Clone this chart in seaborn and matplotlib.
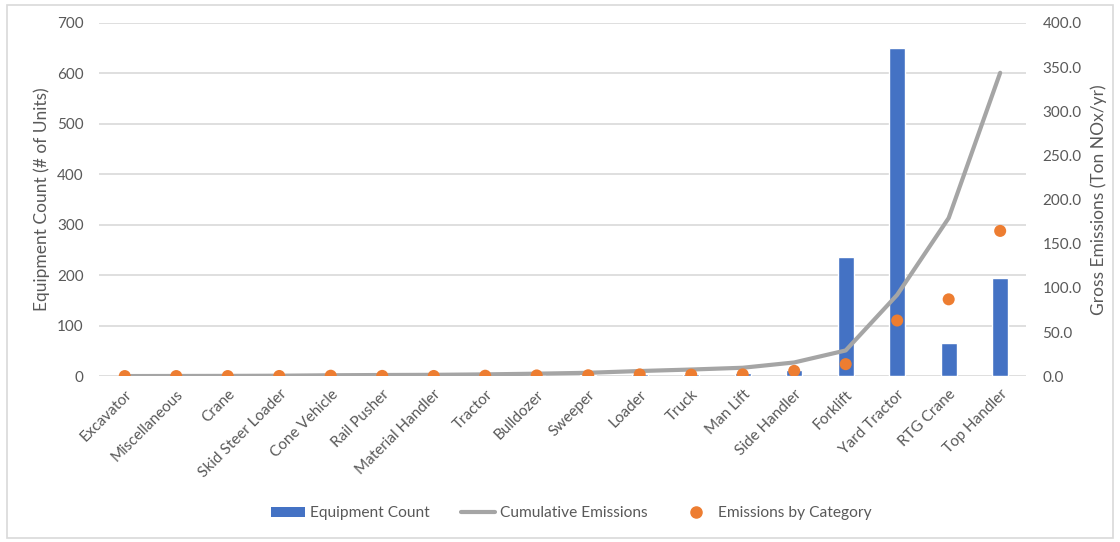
import numpy as np
import pandas as pd
import matplotlib
matplotlib.use("Agg")
import matplotlib.pyplot as plt
from matplotlib.patches import Rectangle
from matplotlib.lines import Line2D
import seaborn as sns

categories = ["Excavator", "Miscellaneous", "Crane", "Skid Steer Loader", "Cone Vehicle",
              "Rail Pusher", "Material Handler", "Tractor", "Bulldozer", "Sweeper", "Loader",
              "Truck", "Man Lift", "Side Handler", "Forklift", "Yard Tractor", "RTG Crane",
              "Top Handler"]
equipment_count = [1, 1, 1, 1, 2, 2, 2, 2, 2, 3, 5, 5, 7, 12, 237, 650, 66, 194]
emissions_by_category = [0.1, 0.1, 0.1, 0.2, 0.5, 0.3, 0.2, 0.5, 0.8, 1.0, 2.0, 1.7, 2.0,
                         6.0, 13.6, 63.0, 87.0, 164.5]
cumulative_emissions = [0.1, 0.2, 0.3, 0.5, 1.0, 1.3, 1.5, 2.0, 2.8, 3.8, 5.8, 7.5, 9.5,
                        15.5, 29.1, 92.1, 179.1, 343.6]

BLUE = "#4472C4"
GREY = "#A5A5A5"
ORANGE = "#ED7D31"
TEXT = "#595959"
GRID = "#D9D9D9"

df = pd.DataFrame({
    "category": categories,
    "pos": np.arange(len(categories)),
    "count": equipment_count,
    "emissions": emissions_by_category,
    "cumulative": cumulative_emissions,
})

sns.set_theme(style="white")
plt.rcParams["font.family"] = ["Lato", "DejaVu Sans"]

fig = plt.figure(figsize=(11.2, 5.42), dpi=100)
ax = fig.add_axes([0.0884, 0.306, 0.8276, 0.6516])

sns.barplot(data=df, x="pos", y="count", color=BLUE, width=0.31, saturation=1,
            ax=ax, native_scale=True, zorder=2)
ax.set_xlim(-0.5, len(categories) - 0.5)
ax.set_ylim(0, 700)
ax.set_yticks(np.arange(0, 701, 100))
ax.yaxis.grid(True, color=GRID, linewidth=1.2, zorder=0)
ax.set_axisbelow(True)
ax.set_xticks(df["pos"])
ax.set_xticklabels(categories, rotation=45, ha="right", rotation_mode="anchor",
                   fontsize=11, color=TEXT)
ax.tick_params(axis="x", length=0, pad=8)
ax.tick_params(axis="y", length=0, labelsize=11, labelcolor=TEXT, pad=11)
ax.set_xlabel("")
ax.set_ylabel("Equipment Count (# of Units)", fontsize=12.5, color=TEXT, labelpad=5)
for s in ax.spines.values():
    s.set_visible(False)

ax2 = ax.twinx()
sns.lineplot(data=df, x="pos", y="cumulative", color=GREY, linewidth=3, ax=ax2, zorder=3)
sns.scatterplot(data=df, x="pos", y="emissions", color=ORANGE, s=75, edgecolor="none",
                ax=ax2, zorder=4)
ax2.set_ylim(0, 400)
ax2.set_yticks(np.arange(0, 401, 50))
ax2.set_yticklabels([f"{v:.1f}" for v in np.arange(0, 401, 50)])
ax2.tick_params(axis="y", length=0, labelsize=11, labelcolor=TEXT, pad=12)
ax2.set_ylabel("Gross Emissions (Ton NOx/yr)", fontsize=12.5, color=TEXT, labelpad=6)
ax2.set_xlabel("")
for s in ax2.spines.values():
    s.set_visible(False)
ax2.set_xlim(-0.5, len(categories) - 0.5)

handles = [
    Rectangle((0, 0), 1, 1, facecolor=BLUE, edgecolor="none"),
    Line2D([0], [0], color=GREY, linewidth=3),
    Line2D([0], [0], color=ORANGE, marker="o", linestyle="none", markersize=8),
]
labels = ["Equipment Count", "Cumulative Emissions", "Emissions by Category"]
fig.legend(handles, labels, loc="center", bbox_to_anchor=(0.51, 0.053), ncol=3,
           frameon=False, fontsize=11.2, labelcolor=TEXT, columnspacing=2.0,
           handlelength=2.2, handleheight=0.6, handletextpad=0.3)

# light frame around the whole chart area
fig.patches.append(Rectangle((0.006, 0.008), 0.988, 0.983, transform=fig.transFigure,
                             fill=False, edgecolor=GRID, linewidth=1.2))

fig.savefig("out.png", dpi=100)
